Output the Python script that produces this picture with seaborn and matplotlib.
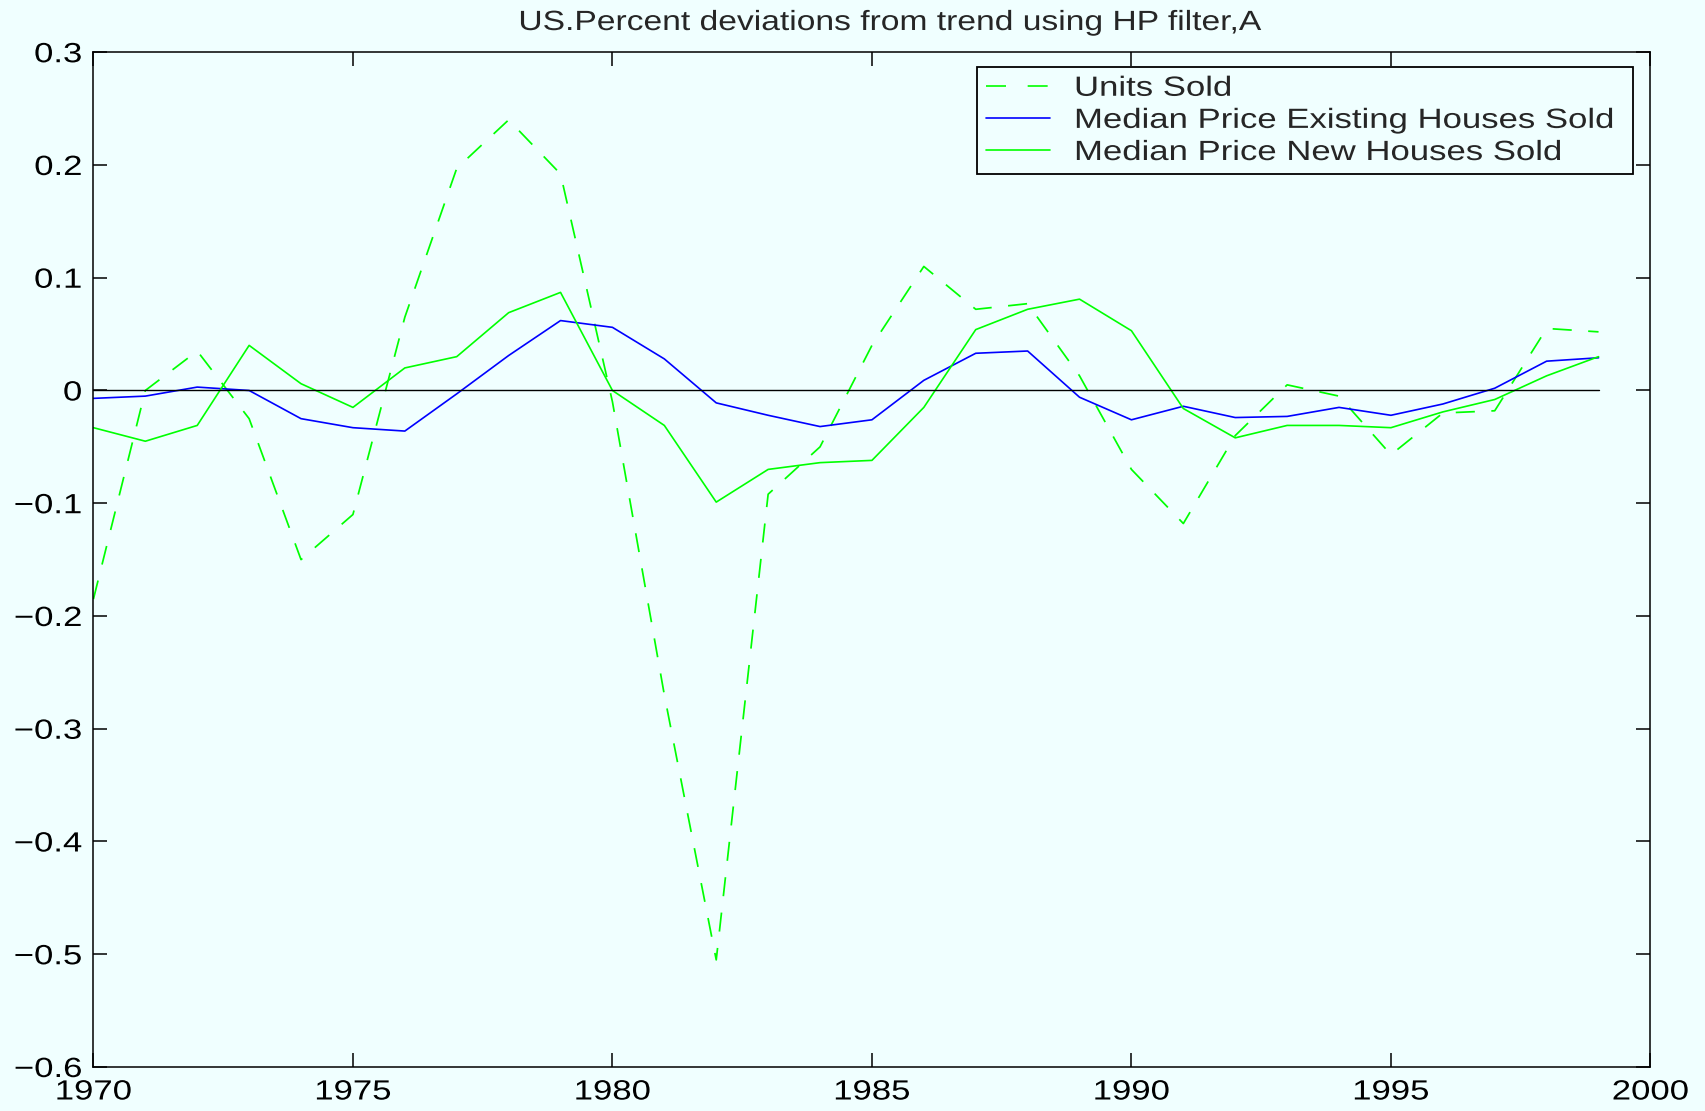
import numpy as np
import pandas as pd
import matplotlib
matplotlib.use("Agg")
import matplotlib.pyplot as plt
import seaborn as sns
from matplotlib.patheffects import AbstractPathEffect
from matplotlib.transforms import Affine2D

# values
years = list(range(1970, 2000))
units_sold = [-0.185, 0.000, 0.035, -0.025, -0.150, -0.110, 0.065, 0.197, 0.240, 0.192,
              -0.010, -0.270, -0.505, -0.092, -0.050, 0.040, 0.110, 0.072, 0.077, 0.013,
              -0.070, -0.118, -0.040, 0.005, -0.005, -0.057, -0.020, -0.018, 0.055, 0.052]
price_existing = [-0.007, -0.005, 0.003, 0.000, -0.025, -0.033, -0.036, -0.003, 0.031, 0.062,
                  0.056, 0.028, -0.011, -0.022, -0.032, -0.026, 0.009, 0.033, 0.035, -0.006,
                  -0.026, -0.014, -0.024, -0.023, -0.015, -0.022, -0.012, 0.002, 0.026, 0.029]
price_new = [-0.033, -0.045, -0.031, 0.040, 0.006, -0.015, 0.020, 0.030, 0.069, 0.087,
             0.000, -0.031, -0.099, -0.070, -0.064, -0.062, -0.015, 0.054, 0.072, 0.081,
             0.053, -0.016, -0.042, -0.031, -0.031, -0.033, -0.019, -0.008, 0.013, 0.030]
zero_line = [0.0] * len(years)

series_names = ["Units Sold", "Median Price Existing Houses Sold", "Median Price New Houses Sold"]
x_ticks = [1970, 1975, 1980, 1985, 1990, 1995, 2000]
y_ticks = [-0.6, -0.5, -0.4, -0.3, -0.2, -0.1, 0.0, 0.1, 0.2, 0.3]
y_labels = ["\u22120.6", "\u22120.5", "\u22120.4", "\u22120.3", "\u22120.2", "\u22120.1", "0", "0.1", "0.2", "0.3"]
title = "US.Percent deviations from trend using HP filter,A"


# the original's lettering is wider than Helvetica/Arial, so stretch text sideways
# around its anchor point
class HStretch(AbstractPathEffect):
    def __init__(self, text, sx=1.25):
        super().__init__()
        self.text = text
        self.sx = sx

    def draw_path(self, renderer, gc, tpath, affine, rgbFace=None):
        x0, _ = self.text.get_transform().transform(self.text.get_unitless_position())
        st = Affine2D().translate(-x0, 0).scale(self.sx, 1).translate(x0, 0)
        renderer.draw_path(gc, tpath, affine + st, rgbFace)


def stretch(texts, sx=1.25):
    for t in texts:
        t.set_path_effects([HStretch(t, sx)])


bg = "#F0FFFF"
sns.set_theme(style="ticks")
plt.rcParams["font.family"] = ["Liberation Sans", "DejaVu Sans"]
plt.rcParams["axes.linewidth"] = 1.1

fig = plt.figure(figsize=(17.05, 11.11), dpi=100, facecolor=bg)
ax = fig.add_axes([0.0548, 0.0396, 0.9132, 0.9134])
ax.set_facecolor(bg)

df = pd.DataFrame({"year": years, "units": units_sold, "existing": price_existing,
                   "new": price_new, "zero": zero_line})

sns.lineplot(data=df, x="year", y="units", ax=ax, color="#00FF00", lw=1.25,
             label=series_names[0])
ax.lines[-1].set_dashes((11, 9.5))
sns.lineplot(data=df, x="year", y="existing", ax=ax, color="#0000FF", lw=1.2,
             label=series_names[1])
sns.lineplot(data=df, x="year", y="new", ax=ax, color="#00FF00", lw=1.2,
             label=series_names[2])
sns.lineplot(data=df, x="year", y="zero", ax=ax, color="black", lw=1.0, legend=False)

ax.set_xlim(1970, 2000)
ax.set_ylim(-0.6, 0.3)
ax.set_xticks(x_ticks)
ax.set_yticks(y_ticks)
ax.set_yticklabels(y_labels)
ax.set_xlabel("")
ax.set_ylabel("")
ax.tick_params(direction="in", length=10, width=1.1, top=True, right=True,
               labelsize=20, colors="black")
ax.tick_params(axis="y", pad=8)
ax.tick_params(axis="x", pad=9)
for s in ax.spines.values():
    s.set_visible(True)
    s.set_color("black")

ttl = ax.set_title(title, fontsize=20, pad=16, x=0.511)

leg = ax.legend(loc="upper left", bbox_to_anchor=(0.5677, 0.882, 0.4211, 0.103),
                mode="expand", fontsize=20, frameon=True, fancybox=False,
                framealpha=1, facecolor=bg, edgecolor="black", borderpad=0.3,
                labelspacing=0.22, handlelength=2.3, handletextpad=0.88,
                borderaxespad=0)
leg.get_frame().set_linewidth(1.3)
for h in leg.get_lines():
    h.set_linewidth(1.2)
leg.get_lines()[0].set_dashes((12, 13))

stretch(ax.get_xticklabels())
stretch(ax.get_yticklabels())
stretch([ttl], 1.21)
stretch(leg.get_texts())

fig.savefig("out.png", dpi=100, facecolor=bg)
